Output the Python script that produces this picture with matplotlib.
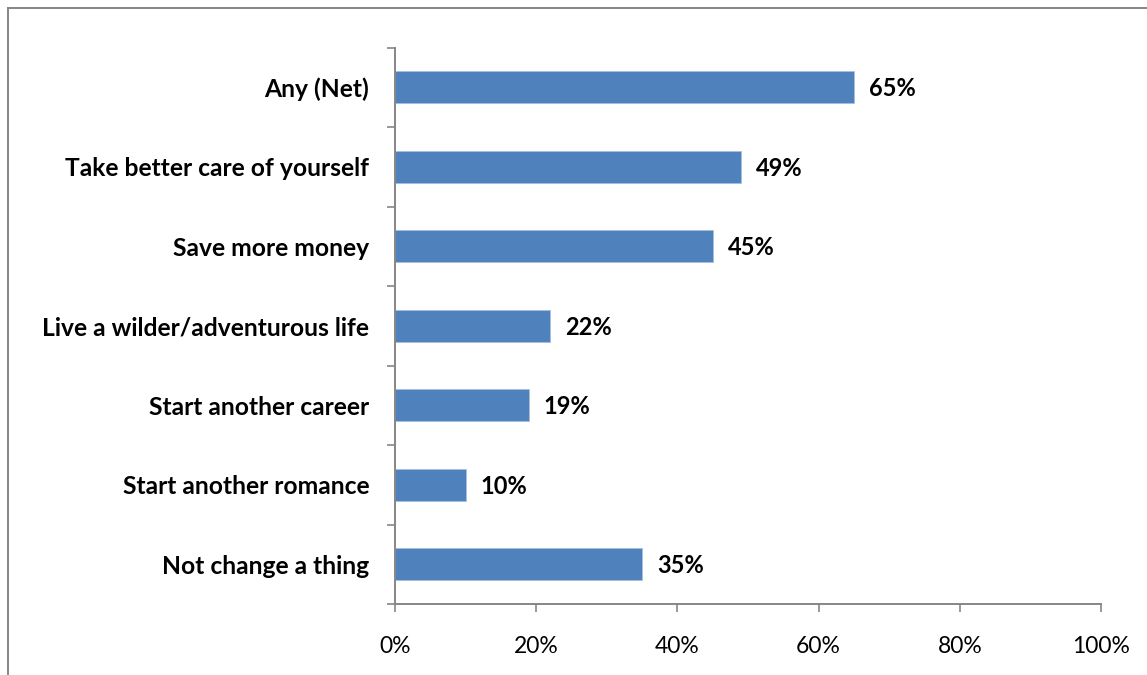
import numpy as np
import matplotlib.pyplot as plt
from matplotlib.lines import Line2D

# datos
categorias = ["Any (Net)", "Take better care of yourself", "Save more money",
              "Live a wilder/adventurous life", "Start another career",
              "Start another romance", "Not change a thing"]
valores = [65, 49, 45, 22, 19, 10, 35]
ticks_x = [0, 20, 40, 60, 80, 100]

plt.rcParams['font.family'] = ['Lato', 'DejaVu Sans']

W, H = 1147, 675
fig = plt.figure(figsize=(W / 100, H / 100), dpi=100)
ax = fig.add_axes([395 / W, 1 - 604 / H, (1101 - 395) / W, (604 - 47.5) / H])

gris = "#868686"
pos = np.arange(len(categorias))
ax.barh(pos, valores, height=0.4, color="#4F81BD", edgecolor="#A7C0DE", linewidth=0.6)
ax.set_ylim(len(categorias) - 0.5, -0.5)
ax.set_xlim(0, 100)

# etiquetas de datos
for p, v in zip(pos, valores):
    ax.text(v + 2.1, p + 0.02, f"{v}%", va="center", ha="left", fontsize=17, fontweight="bold", color="black")

ax.set_yticks(pos)
ax.set_yticklabels(categorias, fontsize=17.7, fontweight="bold")
ax.set_yticks(np.arange(-0.5, len(categorias)), minor=True)
ax.tick_params(axis="y", which="major", length=0, pad=18.5)
ax.tick_params(axis="y", which="minor", length=6, width=1.2, color=gris, direction="out")

ax.set_xticks(ticks_x)
ax.set_xticklabels([f"{t}%" for t in ticks_x], fontsize=16.5)
ax.tick_params(axis="x", length=6, width=1.2, color=gris, direction="out", pad=17)

for s in ["top", "right"]:
    ax.spines[s].set_visible(False)
for s in ["left", "bottom"]:
    ax.spines[s].set_color(gris)
    ax.spines[s].set_linewidth(1.4)

# borde del grafico
fig.add_artist(Line2D([8 / W, 1.01], [1 - 7.5 / H, 1 - 7.5 / H], color=gris, linewidth=1.4, transform=fig.transFigure))
fig.add_artist(Line2D([8 / W, 8 / W], [1 - 7.5 / H, -0.01], color=gris, linewidth=1.4, transform=fig.transFigure))

plt.savefig("out.png", dpi=100)
